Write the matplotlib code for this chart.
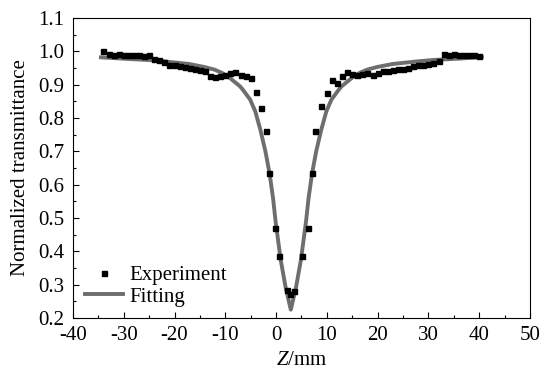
import matplotlib
matplotlib.use("Agg")
import matplotlib.pyplot as plt
from matplotlib.ticker import MultipleLocator

plt.rcParams['font.family'] = ['Liberation Serif', 'DejaVu Serif']
plt.rcParams['mathtext.fontset'] = 'custom'
plt.rcParams['mathtext.rm'] = 'Liberation Serif'
plt.rcParams['mathtext.it'] = 'Liberation Serif:italic'
plt.rcParams['axes.unicode_minus'] = False

# Experimental data (Z in mm, normalized transmittance)
exp_z = [-34, -33, -32, -31, -30, -29, -28, -27, -26, -25, -24, -23, -22, -21,
         -20, -19, -18, -17, -16, -15, -14, -13, -12, -11, -10, -9, -8, -7,
         -6, -5, -4, -3, -2, -1.3, -0.3, 0.6, 2.2, 2.8, 3.5, 5.2, 6.2, 7.1,
         7.7, 8.9, 10, 11, 12, 13, 14, 15, 16, 17, 18, 19, 20, 21, 22, 23, 24,
         25, 26, 27, 28, 29, 30, 31, 32, 33, 34, 35, 36, 37, 38, 39, 40]
exp_t = [1.000, 0.993, 0.990, 0.992, 0.988, 0.990, 0.988, 0.990, 0.985, 0.988,
         0.978, 0.975, 0.968, 0.960, 0.958, 0.955, 0.952, 0.950, 0.948, 0.945,
         0.940, 0.925, 0.922, 0.925, 0.930, 0.935, 0.938, 0.930, 0.925, 0.919,
         0.877, 0.830, 0.760, 0.635, 0.470, 0.385, 0.285, 0.272, 0.280, 0.385,
         0.470, 0.635, 0.760, 0.835, 0.875, 0.915, 0.905, 0.925, 0.938, 0.932,
         0.930, 0.932, 0.935, 0.930, 0.935, 0.940, 0.942, 0.944, 0.946, 0.948,
         0.950, 0.955, 0.958, 0.960, 0.962, 0.966, 0.970, 0.992, 0.990, 0.993,
         0.988, 0.990, 0.990, 0.988, 0.987]

# Fitted curve
fit_z = [-34.5, -30.1, -25.1, -22.1, -17.1, -14.1, -12.1, -10.6, -9.1, -7.1,
         -6.4, -5.1, -4.1, -3.1, -2.1, -1.3, -0.6, -0.1, 0.9, 1.9, 2.9, 3.9,
         4.9, 5.9, 6.4, 7.1, 7.9, 8.9, 9.9, 10.9, 12.2, 12.9, 14.9, 16.4,
         17.9, 19.9, 22.9, 27.9, 30.9, 35.9, 40.5]
fit_t = [0.982, 0.978, 0.974, 0.970, 0.962, 0.953, 0.945, 0.935, 0.920, 0.895,
         0.882, 0.855, 0.820, 0.765, 0.700, 0.635, 0.560, 0.490, 0.375, 0.290,
         0.225, 0.290, 0.375, 0.490, 0.560, 0.635, 0.700, 0.765, 0.820, 0.855,
         0.882, 0.895, 0.920, 0.935, 0.945, 0.953, 0.962, 0.970, 0.974, 0.978,
         0.983]

fig = plt.figure(figsize=(5.43, 3.73), dpi=100)
ax = fig.add_axes([0.1344, 0.1475, 0.8416, 0.8042])

ax.plot(exp_z, exp_t, linestyle='none', marker='s', markersize=3.6,
        color='black', label='Experiment', zorder=3)
ax.plot(fit_z, fit_t, color='#6e6e6e', linewidth=2.8, label='Fitting',
        zorder=2)

ax.set_xlim(-40, 50)
ax.set_ylim(0.2, 1.1)
ax.xaxis.set_major_locator(MultipleLocator(10))
ax.xaxis.set_minor_locator(MultipleLocator(5))
ax.yaxis.set_major_locator(MultipleLocator(0.1))
ax.yaxis.set_minor_locator(MultipleLocator(0.05))
ax.yaxis.set_major_formatter(plt.FormatStrFormatter('%.1f'))
ax.tick_params(which='both', direction='in', top=False, right=False,
               labelsize=15)
ax.tick_params(which='major', length=4, width=0.8, pad=6)
ax.tick_params(which='minor', length=2.5, width=0.8)

ax.set_xlabel('$Z$/mm', fontsize=15, labelpad=4)
ax.set_ylabel('Normalized transmittance', fontsize=15, labelpad=6)

ax.legend(loc='lower left', bbox_to_anchor=(-0.01, -0.018), frameon=False,
          fontsize=15, handlelength=1.8, handletextpad=0.35,
          labelspacing=0.1, borderpad=0.3)

fig.savefig('out.png', dpi=100)
